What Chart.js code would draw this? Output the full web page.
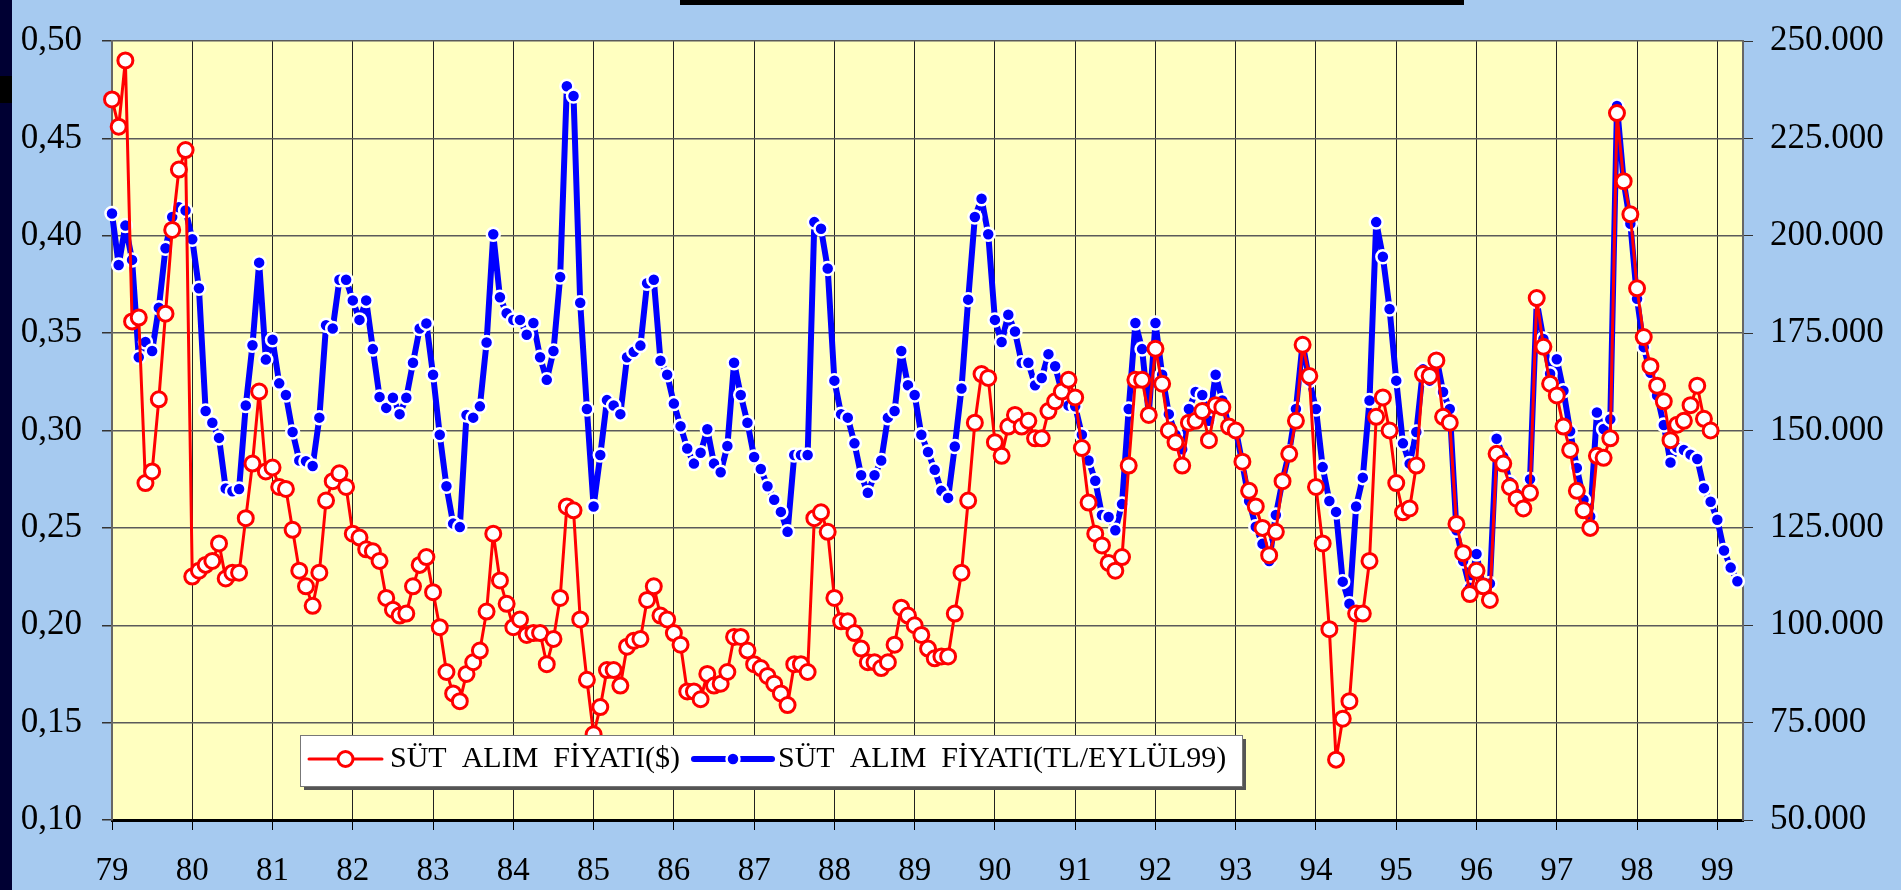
<!DOCTYPE html>
<html>
<head>
<meta charset="utf-8">
<script src="https://cdn.jsdelivr.net/npm/chart.js@4.4.1/dist/chart.umd.min.js"></script>
<style>
  html, body { margin: 0; padding: 0; background: #a6caf0; }
  #wrap { position: relative; width: 1901px; height: 890px; overflow: hidden; background: #a6caf0; }
  #wrap canvas { position: absolute; left: 0; top: 0; }
  #edge { position: absolute; left: 0; top: 0; width: 12px; height: 890px; background: #000033; z-index: 2; }
  #edgeMark { position: absolute; left: 0; top: 76px; width: 12px; height: 27px; background: #000; z-index: 3; }
  #titleBar { position: absolute; left: 680px; top: 0; width: 784px; height: 5px; background: #000; z-index: 2; }
</style>
</head>
<body>
<div id="wrap">
  <canvas id="milkChart" width="1901" height="890"></canvas>
  <div id="edge"></div>
  <div id="edgeMark"></div>
  <div id="titleBar"></div>
</div>
<script>
// monthly series, Jan 1979 onwards
const startYear = 1979;

// SÜT ALIM FİYATI ($) - left axis, Jan 79 .. Dec 98
const usdPrice = [
  0.470, 0.456, 0.490, 0.356, 0.358, 0.273, 0.279, 0.316, 0.360, 0.403, 0.434, 0.444,
  0.225, 0.228, 0.231, 0.233, 0.242, 0.224, 0.227, 0.227, 0.255, 0.283, 0.320, 0.279,
  0.281, 0.271, 0.270, 0.249, 0.228, 0.220, 0.210, 0.227, 0.264, 0.274, 0.278, 0.271,
  0.247, 0.245, 0.239, 0.238, 0.233, 0.214, 0.208, 0.205, 0.206, 0.220, 0.231, 0.235,
  0.217, 0.199, 0.176, 0.165, 0.161, 0.175, 0.181, 0.187, 0.207, 0.247, 0.223, 0.211,
  0.199, 0.203, 0.195, 0.196, 0.196, 0.180, 0.193, 0.214, 0.261, 0.259, 0.203, 0.172,
  0.144, 0.158, 0.177, 0.177, 0.169, 0.189, 0.192, 0.193, 0.213, 0.220, 0.205, 0.203,
  0.196, 0.190, 0.166, 0.166, 0.162, 0.175, 0.169, 0.170, 0.176, 0.194, 0.194, 0.187,
  0.180, 0.178, 0.174, 0.170, 0.165, 0.159, 0.180, 0.180, 0.176, 0.255, 0.258, 0.248,
  0.214, 0.202, 0.202, 0.196, 0.188, 0.181, 0.181, 0.178, 0.181, 0.190, 0.209, 0.205,
  0.200, 0.195, 0.188, 0.183, 0.184, 0.184, 0.206, 0.227, 0.264, 0.304, 0.329, 0.327,
  0.294, 0.287, 0.302, 0.308, 0.302, 0.305, 0.296, 0.296, 0.310, 0.315, 0.320, 0.326,
  0.317, 0.291, 0.263, 0.247, 0.241, 0.232, 0.228, 0.235, 0.282, 0.326, 0.326, 0.308,
  0.342, 0.324, 0.300, 0.294, 0.282, 0.304, 0.305, 0.310, 0.295, 0.313, 0.312, 0.302,
  0.300, 0.284, 0.269, 0.261, 0.250, 0.236, 0.248, 0.274, 0.288, 0.305, 0.344, 0.328,
  0.271, 0.242, 0.198, 0.131, 0.152, 0.161, 0.206, 0.206, 0.233, 0.307, 0.317, 0.300,
  0.273, 0.258, 0.260, 0.282, 0.329, 0.328, 0.336, 0.307, 0.304, 0.252, 0.237, 0.216,
  0.228, 0.220, 0.213, 0.288, 0.283, 0.271, 0.265, 0.260, 0.268, 0.368, 0.343, 0.324,
  0.318, 0.302, 0.290, 0.269, 0.259, 0.250, 0.287, 0.286, 0.296, 0.463, 0.428, 0.411,
  0.373, 0.348, 0.333, 0.323, 0.315, 0.295, 0.303, 0.305, 0.313, 0.323, 0.306, 0.300
];

// SÜT ALIM FİYATI (TL / EYLÜL 99) - right axis, Jan 79 .. Apr 99
const tlPrice = [
  205700, 192500, 202600, 193800, 168800, 172700, 170400, 181500, 196800, 204800, 207300, 206500,
  199100, 186500, 155000, 152000, 148100, 135100, 134400, 135000, 156400, 171900, 193100, 168200,
  173300, 162100, 159100, 149600, 142300, 142100, 140900, 153300, 177000, 176200, 188700, 188700,
  183400, 178400, 183400, 170900, 158600, 155800, 158400, 154200, 158400, 167400, 176200, 177500,
  164300, 148900, 135700, 126100, 125200, 154000, 153300, 156200, 172600, 200400, 184200, 180100,
  178400, 178400, 174600, 177600, 168800, 163000, 170400, 189400, 238400, 235900, 182800, 155500,
  130500, 143700, 157800, 156400, 154200, 168800, 170200, 171800, 187800, 188700, 167900, 164300,
  156900, 151100, 145400, 141500, 144300, 150300, 141500, 139300, 146000, 167400, 159100, 152000,
  143200, 140100, 135700, 132200, 129100, 124000, 143700, 143700, 143700, 203500, 201800, 191600,
  162800, 154200, 153300, 146700, 138500, 134000, 138500, 142300, 153300, 155000, 170400, 161600,
  159100, 148900, 144500, 139900, 134500, 132700, 145900, 160800, 183600, 204800, 209500, 200400,
  178400, 172700, 179700, 175400, 167400, 167400, 161600, 163500, 169600, 166500, 159900, 156400,
  156200, 148900, 142300, 137100, 128300, 127800, 124400, 131100, 155500, 177600, 170900, 154200,
  177600, 164300, 154200, 148900, 145200, 155500, 159900, 159100, 152500, 164300, 157700, 150900,
  150300, 141500, 131900, 125300, 120900, 116500, 128300, 137100, 144500, 155500, 172400, 162800,
  155500, 140600, 131900, 129100, 111200, 105500, 130500, 137900, 157700, 203500, 194600, 181200,
  162800, 146700, 141500, 149600, 165700, 162800, 168800, 159900, 155500, 124400, 116500, 109600,
  118300, 109500, 110700, 147900, 143300, 136700, 133800, 132300, 137500, 183100, 173500, 164600,
  168300, 160200, 149800, 140400, 132200, 127900, 154600, 150400, 152900, 233300, 214000, 203100,
  183800, 171400, 164800, 159000, 151400, 141800, 145600, 145000, 143800, 142700, 135200, 131700,
  127100, 119200, 114800, 111300
];

const yearTicks = [1979, 1980, 1981, 1982, 1983, 1984, 1985, 1986, 1987, 1988, 1989,
                   1990, 1991, 1992, 1993, 1994, 1995, 1996, 1997, 1998, 1999];
const usdTicks = [0.10, 0.15, 0.20, 0.25, 0.30, 0.35, 0.40, 0.45, 0.50];
const tlTicks = [50000, 75000, 100000, 125000, 150000, 175000, 200000, 225000, 250000];

const usdLabel = 'SÜT  ALIM  FİYATI($)';
const tlLabel = 'SÜT  ALIM  FİYATI(TL/EYLÜL99)';

const toPoints = arr => arr.map((v, i) => ({ x: startYear + i / 12, y: v }));

const serif = 'Liberation Serif, Times New Roman, serif';

// yellow plot area
const plotBackground = {
  id: 'plotBackground',
  beforeDraw(chart) {
    const { ctx, chartArea: a } = chart;
    ctx.save();
    ctx.fillStyle = '#ffffc0';
    ctx.fillRect(a.left, a.top, a.right - a.left, a.bottom - a.top);
    ctx.restore();
  }
};

// boxed legend sitting inside the plot, lower left
const boxLegend = {
  id: 'boxLegend',
  afterDraw(chart) {
    const ctx = chart.ctx;
    const bx = 300, by = 735, bw = 942, bh = 51, cy = 759;
    ctx.save();
    ctx.fillStyle = '#555';
    ctx.fillRect(bx + 4, by + 4, bw, bh);
    ctx.fillStyle = '#fff';
    ctx.fillRect(bx, by, bw, bh);
    ctx.strokeStyle = '#777';
    ctx.lineWidth = 1;
    ctx.strokeRect(bx + 0.5, by + 0.5, bw, bh);

    const items = [
      { ds: chart.data.datasets[0], x0: 309, x1: 382, text: usdLabel, tx: 390 },
      { ds: chart.data.datasets[1], x0: 694, x1: 772, text: tlLabel, tx: 778 }
    ];
    items.forEach(it => {
      const ds = it.ds;
      ctx.strokeStyle = ds.borderColor;
      ctx.lineWidth = ds.borderWidth;
      ctx.lineCap = 'round';
      ctx.beginPath();
      ctx.moveTo(it.x0, cy);
      ctx.lineTo(it.x1, cy);
      ctx.stroke();
      ctx.beginPath();
      ctx.arc((it.x0 + it.x1) / 2, cy, ds.pointRadius, 0, Math.PI * 2);
      ctx.fillStyle = ds.pointBackgroundColor;
      ctx.fill();
      ctx.lineWidth = ds.pointBorderWidth;
      ctx.strokeStyle = ds.pointBorderColor;
      ctx.stroke();
      ctx.fillStyle = '#000';
      ctx.font = '30px ' + serif;
      ctx.textBaseline = 'alphabetic';
      ctx.fillText(it.text, it.tx, 767);
    });
    ctx.restore();
  }
};

new Chart(document.getElementById('milkChart'), {
  type: 'line',
  data: {
    datasets: [
      {
        label: usdLabel,
        data: toPoints(usdPrice),
        yAxisID: 'y',
        borderColor: '#ff0000',
        borderWidth: 3,
        borderJoinStyle: 'round',
        borderCapStyle: 'round',
        pointRadius: 7.5,
        pointBorderWidth: 3,
        pointBackgroundColor: '#ffffff',
        pointBorderColor: '#ff0000',
        tension: 0,
        clip: 12
      },
      {
        label: tlLabel,
        data: toPoints(tlPrice),
        yAxisID: 'y1',
        borderColor: '#0000ff',
        borderWidth: 6,
        borderJoinStyle: 'round',
        borderCapStyle: 'round',
        pointRadius: 6.5,
        pointBorderWidth: 2.5,
        pointBackgroundColor: '#0000ff',
        pointBorderColor: '#ffffff',
        tension: 0,
        clip: 12
      }
    ]
  },
  options: {
    responsive: false,
    animation: false,
    devicePixelRatio: 1,
    events: [],
    layout: { padding: { top: 22, left: 0, right: 0, bottom: 0 } },
    plugins: {
      legend: { display: false },
      tooltip: { enabled: false }
    },
    scales: {
      x: {
        type: 'linear',
        position: 'bottom',
        min: 1979,
        max: 1999.32,
        afterBuildTicks: s => { s.ticks = yearTicks.map(v => ({ value: v })); },
        afterFit: s => { s.height = 70; },
        ticks: {
          autoSkip: false,
          maxRotation: 0,
          padding: 22,
          color: '#000',
          font: { family: serif, size: 33 },
          callback: v => String(v).slice(2)
        },
        grid: { color: '#222', lineWidth: 1, tickLength: 10, tickColor: '#000' },
        border: { color: '#000', width: 3 }
      },
      y: {
        position: 'left',
        min: 0.10,
        max: 0.50,
        afterBuildTicks: s => { s.ticks = usdTicks.map(v => ({ value: v })); },
        afterFit: s => { s.width = 112; },
        ticks: {
          padding: 20,
          color: '#000',
          font: { family: serif, size: 35 },
          callback: v => v.toFixed(2).replace('.', ',')
        },
        grid: { color: '#5a5a5a', lineWidth: 1.5, tickLength: 10, tickColor: '#333' },
        border: { color: '#666', width: 2 }
      },
      y1: {
        position: 'right',
        min: 50000,
        max: 250000,
        afterBuildTicks: s => { s.ticks = tlTicks.map(v => ({ value: v })); },
        afterFit: s => { s.width = 158; },
        ticks: {
          padding: 17,
          color: '#000',
          font: { family: serif, size: 35 },
          callback: v => (v / 1000).toFixed(0) + '.000'
        },
        grid: { drawOnChartArea: false, tickLength: 10, tickColor: '#333' },
        border: { color: '#666', width: 2 }
      }
    }
  },
  plugins: [plotBackground, boxLegend]
});
</script>
</body>
</html>
